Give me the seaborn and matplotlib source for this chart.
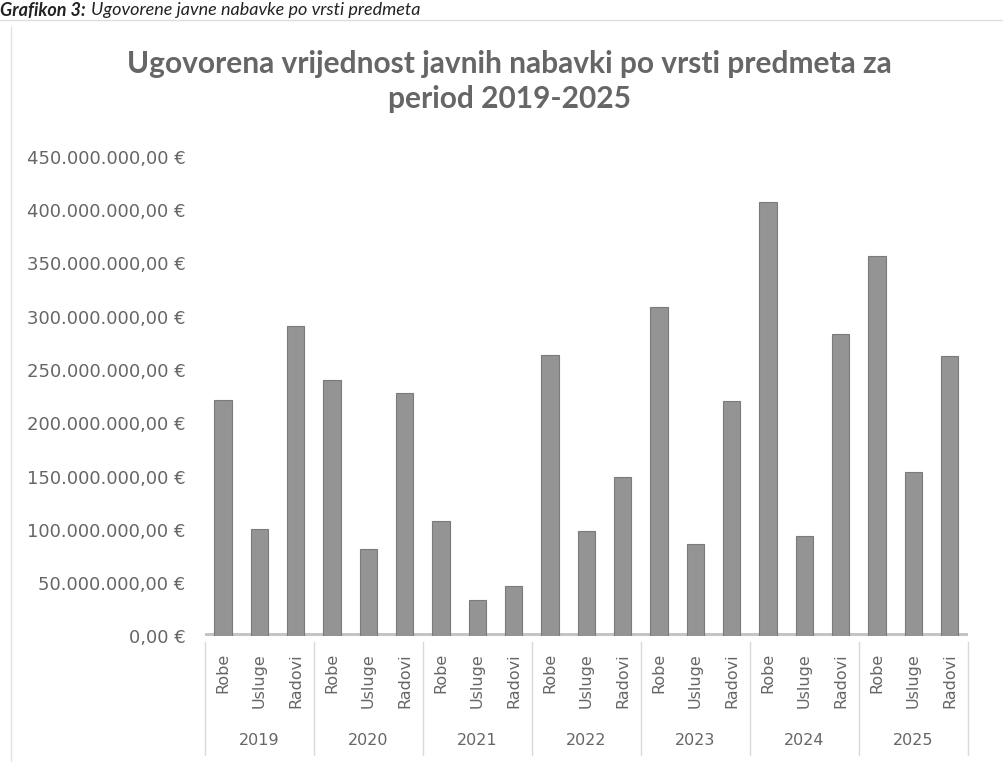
import pandas as pd
import numpy as np
import matplotlib.pyplot as plt
import matplotlib.ticker as mticker
import seaborn as sns

godine = ['2019', '2020', '2021', '2022', '2023', '2024', '2025']
vrste = ['Robe', 'Usluge', 'Radovi']

# vrijednosti u milionima eura (ocitano sa grafikona)
robe = [222, 241, 108, 264, 309, 408, 357]
usluge = [101, 82, 34, 99, 87, 94, 154]
radovi = [291, 228, 47, 150, 221, 284, 263]

rows = []
for i, g in enumerate(godine):
    for v, vals in zip(vrste, [robe, usluge, radovi]):
        rows.append({'godina': g, 'vrsta': v, 'kljuc': g + ' ' + v, 'vrijednost': vals[i] * 1e6})
df = pd.DataFrame(rows)

sns.set_style('white')
plt.rcParams['font.family'] = ['DejaVu Sans']

fig = plt.figure(figsize=(10.04, 7.62), dpi=100)
ax = fig.add_axes([0.204, 0.165, 0.76, 0.629])

sns.barplot(data=df, x='kljuc', y='vrijednost', order=list(df['kljuc']),
            color='#949494', width=0.47, edgecolor='#7a7a7a', linewidth=0.8,
            saturation=1, ax=ax)

ax.set_ylim(0, 450e6)
ax.set_xlim(-0.5, len(df) - 0.5)
ax.yaxis.set_major_locator(mticker.MultipleLocator(50e6))


def eur(v, pos):
    s = f"{v:,.2f}".replace(',', 'X').replace('.', ',').replace('X', '.')
    return s + ' €'


ax.yaxis.set_major_formatter(mticker.FuncFormatter(eur))
ax.tick_params(axis='y', labelsize=13, colors='#666666', length=0, pad=14)
ax.set_xticks([])
ax.set_xlabel('')
ax.set_ylabel('')
sns.despine(ax=ax, left=True, bottom=True)

# pod grafikona
ax.axhline(0, color='#c4c4c4', linewidth=5, zorder=0)

# kategorije ispod osi
tr = ax.get_xaxis_transform()
for i, row in df.iterrows():
    ax.text(i, -0.035, row['vrsta'], rotation=90, ha='center', va='top',
            fontsize=11.5, color='#666666', transform=tr, clip_on=False)
for j, g in enumerate(godine):
    ax.text(j * 3 + 1, -0.217, g, ha='center', va='center', fontsize=11.5,
            color='#666666', transform=tr, clip_on=False)
for j in range(len(godine) + 1):
    ax.plot([j * 3 - 0.5] * 2, [-0.012, -0.248], color='#d9d9d9', linewidth=1,
            transform=tr, clip_on=False)

fig.text(0.507, 0.893, 'Ugovorena vrijednost javnih nabavki po vrsti predmeta za\nperiod 2019-2025',
         ha='center', va='center', fontsize=21.5, fontweight='bold', color='#666666',
         family=['Lato', 'DejaVu Sans'], linespacing=1.32)

# naslov iznad grafikona
t1 = fig.text(0.0, 0.998, 'Grafikon 3:', ha='left', va='top', fontsize=13,
              style='italic', fontweight='bold', color='#222222', family=['Lato', 'DejaVu Sans'])
fig.canvas.draw()
bb = t1.get_window_extent().transformed(fig.transFigure.inverted())
fig.text(bb.x1 + 0.005, 0.998, 'Ugovorene javne nabavke po vrsti predmeta', ha='left',
         va='top', fontsize=13, style='italic', color='#222222', family=['Lato', 'DejaVu Sans'])

fig.add_artist(plt.Line2D([0, 1], [0.974, 0.974], transform=fig.transFigure,
                          color='#dddddd', linewidth=1))
fig.add_artist(plt.Line2D([0.011, 0.011], [0, 0.966], transform=fig.transFigure,
                          color='#e3e3e3', linewidth=1))

plt.savefig('out.png', dpi=100)
plt.close()
